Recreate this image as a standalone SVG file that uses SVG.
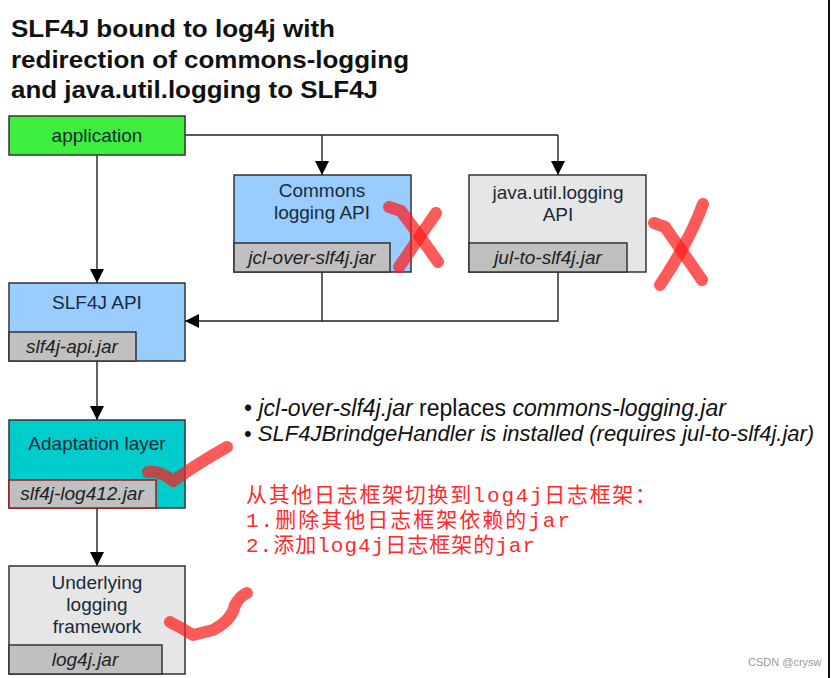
<svg xmlns="http://www.w3.org/2000/svg" width="831" height="678" viewBox="0 0 831 678">
<defs>
<marker id="arr" markerUnits="userSpaceOnUse" markerWidth="14" markerHeight="14" refX="14" refY="7" orient="auto">
<path d="M0,0 L14,7 L0,14 z" fill="#000"/>
</marker>
</defs>
<style>
.box{stroke:#333;stroke-width:1.5}
.jar{fill:#c0c0c0;stroke:#333;stroke-width:1.5}
.lbl{font-family:"Liberation Sans",Arial,sans-serif;font-size:19px;fill:#1a2a3a;text-anchor:middle}
.jt{font-family:"Liberation Sans",Arial,sans-serif;font-size:19px;font-style:italic;fill:#222;text-anchor:middle}
.title{font-family:"Liberation Sans",Arial,sans-serif;font-size:24px;font-weight:bold;fill:#111}
.conn{fill:none;stroke:#222;stroke-width:1.4}
.note{font-family:"Liberation Sans",Arial,sans-serif;font-size:23px;fill:#111}
.note2{font-family:"Liberation Sans",Arial,sans-serif;font-size:22px;fill:#111}
.cn{font-family:"Liberation Mono","Noto Sans CJK SC",monospace;font-size:21px;fill:#ff2a2a}
.mark{fill:none;stroke:#ff1a1a;stroke-opacity:0.72;stroke-width:12;stroke-linecap:round;stroke-linejoin:round}
</style>
<rect width="831" height="678" fill="#fff"/>

<g id="title">
<text class="title" x="11" y="37" textLength="324" lengthAdjust="spacingAndGlyphs">SLF4J bound to log4j with</text>
<text class="title" x="11" y="68" textLength="398" lengthAdjust="spacingAndGlyphs">redirection of commons-logging</text>
<text class="title" x="11" y="98" textLength="367" lengthAdjust="spacingAndGlyphs">and java.util.logging to SLF4J</text>
</g>

<g id="connectors">
<path class="conn" d="M97,155 V283" marker-end="url(#arr)"/>
<path class="conn" d="M185,135 H558"/>
<path class="conn" d="M322,135 V175" marker-end="url(#arr)"/>
<path class="conn" d="M558,135 V175" marker-end="url(#arr)"/>
<path class="conn" d="M558,272 V321 H322"/>
<path class="conn" d="M322,272 V321 H185" marker-end="url(#arr)"/>
<path class="conn" d="M97,361 V420" marker-end="url(#arr)"/>
<path class="conn" d="M97,508 V566" marker-end="url(#arr)"/>
</g>

<g id="application">
<rect class="box" x="9" y="116" width="176" height="39" fill="#3eee3e"/>
<text class="lbl" x="97" y="142">application</text>
</g>

<g id="commons">
<rect class="box" x="234" y="175" width="177" height="97" fill="#99ccff"/>
<text class="lbl" x="322" y="197">Commons</text>
<text class="lbl" x="322" y="219">logging API</text>
<rect class="jar" x="234" y="243" width="156" height="29"/>
<text class="jt" x="312" y="264">jcl-over-slf4j.jar</text>
</g>

<g id="jul">
<rect class="box" x="469" y="175" width="177" height="97" fill="#e6e6e6"/>
<text class="lbl" x="558" y="199">java.util.logging</text>
<text class="lbl" x="558" y="221">API</text>
<rect class="jar" x="469" y="243" width="158" height="29"/>
<text class="jt" x="548" y="264">jul-to-slf4j.jar</text>
</g>

<g id="slf4j-api">
<rect class="box" x="9" y="283" width="176" height="78" fill="#99ccff"/>
<text class="lbl" x="97" y="309">SLF4J API</text>
<rect class="jar" x="9" y="332" width="127" height="29"/>
<text class="jt" x="72" y="353">slf4j-api.jar</text>
</g>

<g id="adaptation">
<rect class="box" x="9" y="420" width="176" height="88" fill="#00cccc"/>
<text class="lbl" x="97" y="450">Adaptation layer</text>
<rect class="jar" x="9" y="480" width="147" height="28" style="stroke:#a01818"/>
<text class="jt" x="82" y="500">slf4j-log412.jar</text>
</g>

<g id="underlying">
<rect class="box" x="9" y="566" width="176" height="108" fill="#e6e6e6"/>
<text class="lbl" x="97" y="589">Underlying</text>
<text class="lbl" x="97" y="611">logging</text>
<text class="lbl" x="97" y="633">framework</text>
<rect class="jar" x="9" y="645" width="153" height="29"/>
<text class="jt" x="85" y="666">log4j.jar</text>
</g>

<g id="notes">
<text class="note" x="244" y="416">• <tspan font-style="italic">jcl-over-slf4j.jar</tspan> replaces <tspan font-style="italic">commons-logging.jar</tspan></text>
<text class="note2" x="244" y="441">• <tspan font-style="italic">SLF4JBrindgeHandler is installed (requires jul-to-slf4j.jar)</tspan></text>
<text class="cn" x="246" y="502" textLength="410" lengthAdjust="spacing">从其他日志框架切换到log4j日志框架：</text>
<text class="cn" x="246" y="527" textLength="324" lengthAdjust="spacing">1.删除其他日志框架依赖的jar</text>
<text class="cn" x="246" y="552" textLength="289" lengthAdjust="spacing">2.添加log4j日志框架的jar</text>
</g>

<g id="marks">
<path class="mark" d="M389,207 L401,211 Q420,236 438,262"/>
<path class="mark" d="M436,213 L399,267"/>
<path class="mark" d="M654,223 L665,227 Q684,254 702,280"/>
<path class="mark" d="M703,204 Q690,240 660,285"/>
<path class="mark" d="M148,472 Q160,470 173,481 Q200,462 227,447"/>
<path class="mark" d="M170,622 Q182,628 193,635 Q205,632 213,630 Q232,620 235,605 Q240,596 247,593"/>
</g>

<line x1="829" y1="0" x2="829" y2="678" stroke="#111" stroke-width="2"/>
<text x="748" y="666" font-family="'Liberation Sans',Arial,sans-serif" font-size="11" fill="#999">CSDN @crysw</text>
</svg>
